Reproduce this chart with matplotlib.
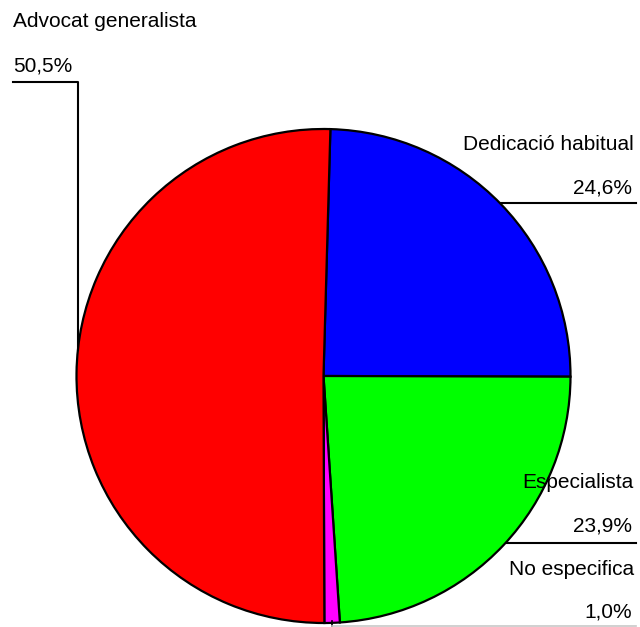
import matplotlib.pyplot as plt

labels = ["Dedicació habitual", "Especialista", "No especifica", "Advocat generalista"]
values = [24.6, 23.9, 1.0, 50.5]
colors = ["#0000ff", "#00ff00", "#ff00ff", "#ff0000"]

W, H = 640, 627
plt.rcParams["font.family"] = ["Liberation Sans", "DejaVu Sans"]
fig = plt.figure(figsize=(W / 100, H / 100), dpi=100)
ax = fig.add_axes([0, 0, 1, 1])

fs = 15

# pie drawn in pixel units, y measured upwards
cx, cy, r = 323.5, H - 376, 247
ax.pie(values, colors=colors, startangle=88.4, counterclock=False,
       center=(cx, cy), radius=r, frame=True,
       wedgeprops=dict(edgecolor="black", linewidth=1.6))
ax.set_xlim(0, W)
ax.set_ylim(0, H)
ax.set_aspect("equal")
ax.axis("off")

def txt(x, y, s, ha):
    ax.text(x, H - y, s, ha=ha, va="baseline", fontsize=fs, color="black")

pct = [f"{v:.1f}%".replace(".", ",") for v in values]

# Advocat generalista (top left)
txt(13, 27, labels[3], "left")
txt(13, 72, pct[3], "left")
ax.plot([13, 78, 78], [H - 82, H - 82, H - 350], color="black", lw=1.5)

# Dedicació habitual
txt(634, 150, labels[0], "right")
txt(632, 193, pct[0], "right")
ax.plot([501, 636], [H - 203, H - 203], color="black", lw=1.5)

# Especialista
txt(634, 488, labels[1], "right")
txt(632, 532, pct[1], "right")
ax.plot([507, 636], [H - 543, H - 543], color="black", lw=1.5)

# No especifica
txt(634, 575, labels[2], "right")
txt(632, 617, pct[2], "right")
ax.plot([332, 332], [H - 621, H - 626], color="black", lw=1.2)
ax.plot([332, 636], [H - 626, H - 626], color="#c8c8c8", lw=1.2)

fig.savefig("out.png", dpi=100)
